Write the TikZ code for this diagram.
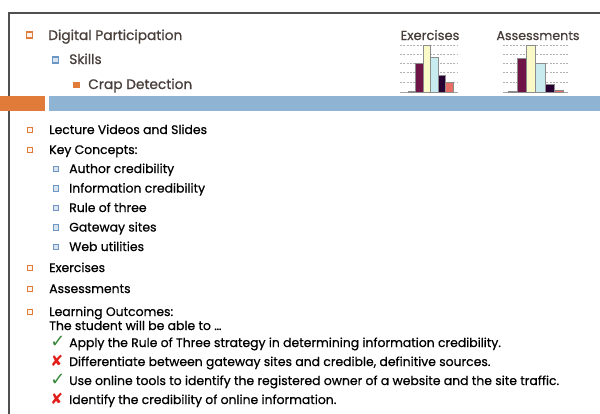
\documentclass[tikz,border=0pt]{standalone}
\usepackage{fontspec}
\setmainfont{Poppins}[FakeBold=0.7]
\newfontfamily\symfont{DejaVu Sans}
\usetikzlibrary{positioning}
\definecolor{FrameGray}{RGB}{80,80,80}
\definecolor{TitleGray}{RGB}{72,62,58}
\definecolor{SlideOrange}{RGB}{224,123,57}
\definecolor{SlideBlue}{RGB}{143,180,211}
\definecolor{BulletBlue}{RGB}{110,150,195}
\definecolor{TickGreen}{RGB}{55,135,60}
\definecolor{CrossRed}{RGB}{225,30,25}
\definecolor{BarBlue}{RGB}{90,100,170}
\definecolor{BarMaroon}{RGB}{110,20,70}
\definecolor{BarYellow}{RGB}{250,250,200}
\definecolor{BarCyan}{RGB}{200,235,240}
\definecolor{BarPurple}{RGB}{40,0,50}
\definecolor{BarSalmon}{RGB}{230,110,100}

\begin{document}
\begin{tikzpicture}[x=0.75pt, y=-0.75pt,
    txt/.style={anchor=base west, inner sep=0pt, font=\fontsize{9.3}{11}\selectfont},
    head/.style={txt, text=TitleGray, font=\fontsize{10.3}{12}\selectfont},
    obullet/.style={draw=SlideOrange, fill=SlideOrange!8, line width=0.8pt, minimum size=4.2pt, inner sep=0pt},
    bbullet/.style={draw=BulletBlue, fill=SlideBlue!35, line width=0.8pt, minimum size=4.2pt, inner sep=0pt},
    sqbullet/.style={fill=SlideOrange, minimum size=5pt, inner sep=0pt},
    tickmark/.style={anchor=base west, inner sep=0pt, font=\symfont\fontsize{#1}{12}\selectfont},
    bar/.style={draw=black!45, line width=0.4pt}]
  \useasboundingbox (0,0) rectangle (600,414);

  % Frame and title bar
  \draw[FrameGray, line width=1.5pt] (9,414) -- (9,13) -- (600,13);
  \fill[SlideOrange] (0,96) rectangle (45,111);
  \fill[SlideBlue] (49,96) rectangle (600,111);

  % Title outline
  \node[obullet, line width=1pt, minimum size=4.5pt] (b-dp) at (29.5,35) {};
  \node[head] (dp) at (48,40) {Digital Participation};
  \node[bbullet, line width=1pt, minimum size=4.5pt] (b-skills) at (55.5,60) {};
  \node[head] (skills) at (69,64) {Skills};
  \node[sqbullet] (b-crap) at (76.5,85) {};
  \node[head] (crap) at (88,89) {Crap Detection};

  % Small charts
  \foreach \x/\w/\lbl in {400/58/Exercises, 503/65/Assessments} {
    \foreach \gy in {45,54,63,72,82} {
      \draw[black!30, dashed, dash pattern=on 1.5pt off 1pt, line width=0.4pt] (\x,\gy) -- ++(\w,0);
    }
    \draw[black!35, line width=0.4pt] (\x,92) -- ++(\w,0);
  }
  \node[head, anchor=base, font=\fontsize{9.8}{12}\selectfont] (exer-lbl) at (430,40) {Exercises};
  \node[head, anchor=base, font=\fontsize{9.5}{12}\selectfont] (assess-lbl) at (538,40) {Assessments};
  \foreach \x/\h/\c in {408/91/BarBlue, 415.5/63/BarMaroon, 423/45/BarYellow,
                        430.5/57/BarCyan, 438/75/BarPurple, 445.5/82/BarSalmon} {
    \filldraw[bar, fill=\c] (\x,92) rectangle ++(7.5,\h-92);
  }
  \foreach \x/\h/\c in {508/91/BarBlue, 517.2/58/BarMaroon, 526.4/45/BarYellow,
                        535.6/63/BarCyan, 544.8/84/BarPurple, 554/90/BarSalmon} {
    \filldraw[bar, fill=\c] (\x,92) rectangle ++(9.2,\h-92);
  }

  % Course contents
  \foreach \n/\y/\t in {lecture/134/Lecture Videos and Slides, concepts/154/Key Concepts:,
                        exer/272/Exercises, assess/293/Assessments, outcomes/316/Learning Outcomes:} {
    \node[obullet] (b-\n) at (30,\y-4) {};
    \node[txt] (\n) at (49,\y) {\t};
  }
  \foreach \n/\y/\t in {author/173/Author credibility, info/192.5/Information credibility,
                        rule/212/Rule of three, gateway/231.5/Gateway sites, web/251/Web utilities} {
    \node[bbullet] (b-\n) at (56,\y-4) {};
    \node[txt] (\n) at (69,\y) {\t};
  }
  \node[txt] (student) at (49,330) {The student will be able to …};

  % Outcomes, met and not met
  \foreach \n/\y/\m/\c/\s/\t in {
      o1/347/✓/TickGreen/13.5/Apply the Rule of Three strategy in determining information credibility.,
      o2/366/✘/CrossRed/11.5/Differentiate between gateway sites and credible{,} definitive sources.,
      o3/385/✓/TickGreen/13.5/Use online tools to identify the registered owner of a website and the site traffic.,
      o4/404/✘/CrossRed/11.5/Identify the credibility of online information.} {
    \node[tickmark=\s, text=\c] (m-\n) at (50,\y) {\m};
    \node[txt] (\n) at (69,\y) {\t};
  }
\end{tikzpicture}
\end{document}
